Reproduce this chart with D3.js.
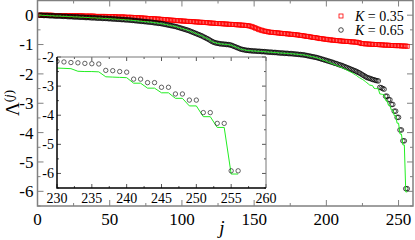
<!DOCTYPE html>
<html>
<head>
<meta charset="utf-8">
<script src="https://cdn.jsdelivr.net/npm/d3@7"></script>
<style>
  body { margin: 0; background: #fff; }
</style>
</head>
<body>
<div class="canvas"></div>
<script>
// j = 1..256
const red035 = [
  0,0,0,0,0,0,0,0,0,0,-0.01,-0.01,-0.01,-0.01,-0.01,-0.01,
  -0.01,-0.01,-0.01,-0.01,-0.01,-0.02,-0.02,-0.02,-0.02,-0.02,-0.02,-0.02,-0.02,-0.02,-0.02,-0.03,
  -0.03,-0.03,-0.03,-0.03,-0.03,-0.03,-0.03,-0.04,-0.04,-0.04,-0.04,-0.04,-0.04,-0.04,-0.04,-0.05,
  -0.05,-0.05,-0.05,-0.05,-0.05,-0.05,-0.06,-0.06,-0.06,-0.06,-0.06,-0.06,-0.07,-0.07,-0.07,-0.07,
  -0.07,-0.08,-0.08,-0.08,-0.08,-0.09,-0.09,-0.09,-0.1,-0.1,-0.1,-0.11,-0.11,-0.11,-0.12,-0.12,
  -0.12,-0.13,-0.13,-0.13,-0.14,-0.14,-0.15,-0.15,-0.15,-0.16,-0.16,-0.17,-0.17,-0.17,-0.18,-0.18,
  -0.19,-0.19,-0.19,-0.2,-0.2,-0.2,-0.21,-0.21,-0.21,-0.22,-0.22,-0.22,-0.23,-0.23,-0.23,-0.24,
  -0.24,-0.24,-0.25,-0.25,-0.25,-0.26,-0.26,-0.27,-0.27,-0.27,-0.28,-0.28,-0.28,-0.29,-0.29,-0.29,
  -0.3,-0.3,-0.3,-0.31,-0.31,-0.31,-0.32,-0.32,-0.32,-0.33,-0.33,-0.33,-0.34,-0.34,-0.34,-0.35,
  -0.35,-0.36,-0.37,-0.38,-0.4,-0.42,-0.44,-0.46,-0.48,-0.5,-0.51,-0.53,-0.54,-0.55,-0.56,-0.57,
  -0.58,-0.58,-0.59,-0.59,-0.6,-0.6,-0.61,-0.61,-0.62,-0.62,-0.63,-0.63,-0.64,-0.64,-0.65,-0.65,
  -0.66,-0.66,-0.67,-0.67,-0.68,-0.69,-0.69,-0.7,-0.71,-0.72,-0.72,-0.73,-0.74,-0.75,-0.76,-0.76,
  -0.77,-0.78,-0.79,-0.8,-0.8,-0.81,-0.82,-0.82,-0.83,-0.84,-0.84,-0.85,-0.85,-0.86,-0.86,-0.87,
  -0.87,-0.88,-0.88,-0.89,-0.89,-0.89,-0.9,-0.9,-0.91,-0.91,-0.91,-0.92,-0.92,-0.93,-0.94,-0.96,
  -0.97,-0.97,-0.98,-0.98,-0.98,-0.99,-0.99,-0.99,-1.0,-1.0,-1.0,-1.0,-1.01,-1.01,-1.01,-1.02,
  -1.02,-1.02,-1.02,-1.03,-1.03,-1.03,-1.03,-1.04,-1.04,-1.04,-1.04,-1.05,-1.05,-1.05,-1.05,-1.06
];

const black065 = [
  0,0,0,-0.01,-0.01,-0.01,-0.01,-0.02,-0.02,-0.02,-0.02,-0.03,-0.03,-0.03,-0.03,-0.03,
  -0.04,-0.04,-0.04,-0.04,-0.05,-0.05,-0.05,-0.05,-0.06,-0.06,-0.06,-0.06,-0.07,-0.07,-0.07,-0.07,
  -0.08,-0.08,-0.08,-0.08,-0.09,-0.09,-0.09,-0.09,-0.1,-0.1,-0.1,-0.1,-0.11,-0.11,-0.11,-0.11,
  -0.12,-0.12,-0.12,-0.13,-0.13,-0.13,-0.14,-0.14,-0.14,-0.15,-0.15,-0.15,-0.16,-0.16,-0.16,-0.17,
  -0.17,-0.18,-0.18,-0.19,-0.19,-0.2,-0.2,-0.21,-0.21,-0.22,-0.22,-0.23,-0.23,-0.24,-0.24,-0.25,
  -0.26,-0.26,-0.27,-0.28,-0.28,-0.29,-0.3,-0.31,-0.32,-0.33,-0.34,-0.35,-0.36,-0.37,-0.38,-0.39,
  -0.41,-0.42,-0.44,-0.45,-0.47,-0.48,-0.5,-0.51,-0.53,-0.55,-0.57,-0.59,-0.61,-0.63,-0.65,-0.67,
  -0.69,-0.71,-0.74,-0.76,-0.79,-0.81,-0.84,-0.87,-0.9,-0.92,-0.94,-0.95,-0.96,-0.97,-0.98,-0.98,
  -0.99,-0.99,-1.0,-1.0,-1.01,-1.02,-1.04,-1.06,-1.08,-1.1,-1.12,-1.14,-1.16,-1.17,-1.18,-1.19,
  -1.2,-1.2,-1.21,-1.21,-1.22,-1.22,-1.22,-1.23,-1.23,-1.23,-1.24,-1.24,-1.24,-1.25,-1.25,-1.26,
  -1.26,-1.26,-1.27,-1.27,-1.27,-1.28,-1.28,-1.29,-1.29,-1.29,-1.3,-1.3,-1.3,-1.31,-1.31,-1.31,
  -1.32,-1.32,-1.33,-1.33,-1.34,-1.34,-1.35,-1.35,-1.36,-1.37,-1.38,-1.39,-1.4,-1.41,-1.42,-1.43,
  -1.44,-1.45,-1.47,-1.48,-1.5,-1.51,-1.53,-1.54,-1.56,-1.57,-1.59,-1.6,-1.62,-1.64,-1.65,-1.67,
  -1.69,-1.7,-1.72,-1.74,-1.76,-1.78,-1.8,-1.82,-1.84,-1.86,-1.88,-1.9,-1.92,-1.95,-1.97,-2.0,
  -2.03,-2.06,-2.09,-2.12,-2.14,-2.15,-2.17,-2.19,-2.2,-2.22,-2.23,-2.24,-2.46,-2.47,-2.5,-2.52,
  -2.76,-2.76,-2.88,-2.88,-3.04,-3.04,-3.27,-3.27,-3.48,-3.48,-3.91,-3.91,-4.28,-4.28,-5.91,-5.91
];

const green065 = [
  0,0,0,-0.01,-0.01,-0.01,-0.01,-0.02,-0.02,-0.02,-0.02,-0.03,-0.03,-0.03,-0.03,-0.03,
  -0.04,-0.04,-0.04,-0.04,-0.05,-0.05,-0.05,-0.05,-0.06,-0.06,-0.06,-0.06,-0.07,-0.07,-0.07,-0.07,
  -0.08,-0.08,-0.08,-0.08,-0.09,-0.09,-0.09,-0.09,-0.1,-0.1,-0.1,-0.1,-0.11,-0.11,-0.11,-0.11,
  -0.12,-0.12,-0.12,-0.13,-0.13,-0.13,-0.14,-0.14,-0.14,-0.15,-0.15,-0.15,-0.16,-0.16,-0.16,-0.17,
  -0.17,-0.18,-0.18,-0.19,-0.19,-0.2,-0.2,-0.21,-0.21,-0.22,-0.22,-0.23,-0.23,-0.24,-0.24,-0.25,
  -0.26,-0.26,-0.27,-0.28,-0.28,-0.29,-0.3,-0.31,-0.32,-0.33,-0.34,-0.35,-0.36,-0.37,-0.38,-0.39,
  -0.41,-0.42,-0.44,-0.45,-0.47,-0.48,-0.5,-0.51,-0.53,-0.55,-0.57,-0.59,-0.61,-0.63,-0.65,-0.67,
  -0.69,-0.71,-0.74,-0.76,-0.79,-0.81,-0.84,-0.87,-0.9,-0.92,-0.94,-0.95,-0.96,-0.97,-0.98,-0.98,
  -0.99,-0.99,-1.0,-1.0,-1.01,-1.02,-1.04,-1.06,-1.08,-1.1,-1.12,-1.14,-1.16,-1.17,-1.18,-1.19,
  -1.2,-1.2,-1.21,-1.21,-1.22,-1.22,-1.22,-1.23,-1.23,-1.23,-1.24,-1.24,-1.24,-1.25,-1.25,-1.26,
  -1.26,-1.26,-1.27,-1.27,-1.27,-1.28,-1.28,-1.29,-1.29,-1.29,-1.3,-1.3,-1.3,-1.31,-1.31,-1.31,
  -1.32,-1.32,-1.33,-1.33,-1.34,-1.34,-1.35,-1.35,-1.36,-1.37,-1.38,-1.39,-1.4,-1.41,-1.42,-1.43,
  -1.45,-1.46,-1.48,-1.5,-1.52,-1.53,-1.55,-1.57,-1.59,-1.61,-1.63,-1.65,-1.67,-1.69,-1.71,-1.73,
  -1.75,-1.77,-1.79,-1.82,-1.84,-1.86,-1.89,-1.92,-1.94,-1.97,-2.0,-2.03,-2.06,-2.1,-2.13,-2.16,
  -2.19,-2.22,-2.26,-2.3,-2.34,-2.38,-2.39,-2.4,-2.49,-2.5,-2.5,-2.51,-2.68,-2.69,-2.7,-2.71,
  -2.9,-2.9,-3.07,-3.07,-3.23,-3.23,-3.42,-3.42,-3.68,-3.68,-4.05,-4.05,-4.42,-4.42,-6.02,-6.02
];

const mainXTicks = [0, 50, 100, 150, 200, 250];
const mainYTicks = [0, -1, -2, -3, -4, -5, -6];
const insetXTicks = [230, 235, 240, 245, 250, 255, 260];
const insetYTicks = [-2, -3, -4, -5, -6];
const legendLabels = ['0.35', '0.65'];

const rows = (arr) => arr.map((v, i) => ({ j: i + 1, v }));
const redData = rows(red035);
const blackData = rows(black065);
const greenData = rows(green065);

const width = 415, height = 240;
const serif = 'Liberation Serif, DejaVu Serif, serif';
const svg = d3.select('.canvas').append('svg')
  .attr('width', width).attr('height', height)
  .attr('font-family', serif)
  .style('font-family', serif);

const axisColor = '#808080';

// main scales
const x = d3.scaleLinear().domain([0, 260]).range([37.5, 413]);
const y = d3.scaleLinear().domain([-6.5, 0.5]).range([206, 0.5]);

// inset scales
const xi = d3.scaleLinear().domain([230, 260]).range([57, 266]);
const yi = d3.scaleLinear().domain([-6.5, -2]).range([188, 57]);

svg.append('defs').append('clipPath').attr('id', 'mainclip')
  .append('rect').attr('x', x(0)).attr('y', y(0.5))
  .attr('width', x(260) - x(0)).attr('height', y(-6.5) - y(0.5));
svg.select('defs').append('clipPath').attr('id', 'insetclip')
  .append('rect').attr('x', xi(230)).attr('y', yi(-2) - 4)
  .attr('width', xi(260) - xi(230)).attr('height', yi(-6.5) - yi(-2) + 4);

function drawFrame(g, sx, sy, xt, yt, xMinor, yMinor, opt) {
  const [x0, x1] = sx.range();
  const [y0, y1] = sy.range(); // y0 bottom, y1 top
  // ticks, inward, all four sides
  const tk = g.append('g').attr('stroke', opt.tickColor).attr('stroke-width', 1);
  xMinor.forEach(t => {
    const L = xt.includes(t) ? opt.major : opt.minor;
    tk.append('line').attr('x1', sx(t)).attr('x2', sx(t)).attr('y1', y0).attr('y2', y0 - L);
    tk.append('line').attr('x1', sx(t)).attr('x2', sx(t)).attr('y1', y1).attr('y2', y1 + L);
  });
  yMinor.forEach(t => {
    const L = yt.includes(t) ? opt.major : opt.minor;
    tk.append('line').attr('y1', sy(t)).attr('y2', sy(t)).attr('x1', x0).attr('x2', x0 + L);
    tk.append('line').attr('y1', sy(t)).attr('y2', sy(t)).attr('x1', x1).attr('x2', x1 - L);
  });
  // labels
  g.append('g').selectAll('text').data(xt).join('text')
    .attr('x', d => sx(d)).attr('y', y0 + opt.xLabDy)
    .attr('text-anchor', 'middle').attr('font-size', opt.fs).attr('fill', '#000')
    .text(d => d);
  g.append('g').selectAll('text').data(yt).join('text')
    .attr('x', x0 - opt.yLabDx).attr('y', d => sy(d)).attr('dy', '0.35em')
    .attr('text-anchor', 'end').attr('font-size', opt.fs).attr('fill', '#000')
    .text(d => d);
}

// main frame ticks
const mainXMinor = d3.range(0, 261, 25);
const mainYMinor = d3.range(-6.5, 0.51, 0.5).map(v => +v.toFixed(1));
const mainG = svg.append('g');
drawFrame(mainG, x, y, mainXTicks, mainYTicks, mainXMinor, mainYMinor,
  { tickColor: axisColor, major: 6, minor: 3, fs: 17, xLabDy: 19, yLabDx: 4 });

// main data
const plot = svg.append('g').attr('clip-path', 'url(#mainclip)');

plot.append('g').selectAll('rect').data(redData).join('rect')
  .attr('x', d => x(d.j) - 2).attr('y', d => y(d.v) - 2)
  .attr('width', 4).attr('height', 4)
  .attr('fill', 'none').attr('stroke', '#ff0000').attr('stroke-width', 0.8);

plot.append('g').selectAll('circle').data(blackData).join('circle')
  .attr('cx', d => x(d.j)).attr('cy', d => y(d.v)).attr('r', 2.3)
  .attr('fill', 'none').attr('stroke', '#000').attr('stroke-width', 0.7);

const lineMain = d3.line().x(d => x(d.j)).y(d => y(d.v));
plot.append('path').datum(greenData)
  .attr('d', lineMain).attr('fill', 'none')
  .attr('stroke', '#22ee22').attr('stroke-width', 1);

// main box
svg.append('rect')
  .attr('x', x(0)).attr('y', y(0.5))
  .attr('width', x(260) - x(0)).attr('height', y(-6.5) - y(0.5))
  .attr('fill', 'none').attr('stroke', axisColor).attr('stroke-width', 1.5);

// legend
const legend = svg.append('g');
legendLabels.forEach((lab, i) => {
  const ly = 16 + i * 14;
  if (i === 0) {
    legend.append('rect').attr('x', 339).attr('y', ly - 2).attr('width', 4).attr('height', 4)
      .attr('fill', 'none').attr('stroke', '#ff0000').attr('stroke-width', 0.8);
  } else {
    legend.append('circle').attr('cx', 341).attr('cy', ly).attr('r', 2.3)
      .attr('fill', 'none').attr('stroke', '#000').attr('stroke-width', 0.7);
  }
  const t = legend.append('text').attr('x', 355).attr('y', ly + 5)
    .attr('font-size', 14).attr('fill', '#000');
  t.append('tspan').attr('font-style', 'italic').text('K');
  t.append('tspan').text(' = ' + lab);
});

// inset
const insetG = svg.append('g');
insetG.append('rect')
  .attr('x', xi(230)).attr('y', yi(-2))
  .attr('width', xi(260) - xi(230)).attr('height', yi(-6.5) - yi(-2))
  .attr('fill', '#fff');

const insetXMinor = d3.range(230, 260.1, 2.5);
const insetYMinor = d3.range(-6.5, -1.99, 0.5).map(v => +v.toFixed(1));
drawFrame(insetG, xi, yi, insetXTicks, insetYTicks, insetXMinor, insetYMinor,
  { tickColor: '#555', major: 4, minor: 2, fs: 14, xLabDy: 15, yLabDx: 3 });

const insetPlot = insetG.append('g').attr('clip-path', 'url(#insetclip)');
const insetBlack = blackData.filter(d => d.j >= 230);
const insetGreen = greenData.filter(d => d.j >= 230);

const lineInset = d3.line().x(d => xi(d.j)).y(d => yi(d.v));
insetPlot.append('path').datum(insetGreen)
  .attr('d', lineInset).attr('fill', 'none')
  .attr('stroke', '#22ee22').attr('stroke-width', 1);

insetPlot.append('g').selectAll('circle').data(insetBlack).join('circle')
  .attr('cx', d => xi(d.j)).attr('cy', d => yi(d.v)).attr('r', 2.2)
  .attr('fill', 'none').attr('stroke', '#222').attr('stroke-width', 0.7);

// inset box: dark left/bottom, grey top/right
const [ix0, ix1] = xi.range();
const [iy0, iy1] = yi.range();
insetG.append('path')
  .attr('d', `M${ix0},${iy1}L${ix1},${iy1}L${ix1},${iy0}`)
  .attr('fill', 'none').attr('stroke', '#777').attr('stroke-width', 1);
insetG.append('path')
  .attr('d', `M${ix0},${iy1}L${ix0},${iy0}L${ix1},${iy0}`)
  .attr('fill', 'none').attr('stroke', '#000').attr('stroke-width', 1.5);

// axis titles
svg.append('text')
  .attr('x', 222).attr('y', 234).attr('text-anchor', 'middle')
  .attr('font-size', 19).attr('font-style', 'italic').text('j');

const yl = svg.append('text')
  .attr('transform', 'translate(19,103) rotate(-90)')
  .attr('text-anchor', 'middle').attr('font-size', 19);
yl.append('tspan').text('Λ');
yl.append('tspan').attr('dy', -6).attr('font-size', 13).text('(');
yl.append('tspan').attr('font-size', 13).attr('font-style', 'italic').text('j');
yl.append('tspan').attr('font-size', 13).text(')');
</script>
</body>
</html>
